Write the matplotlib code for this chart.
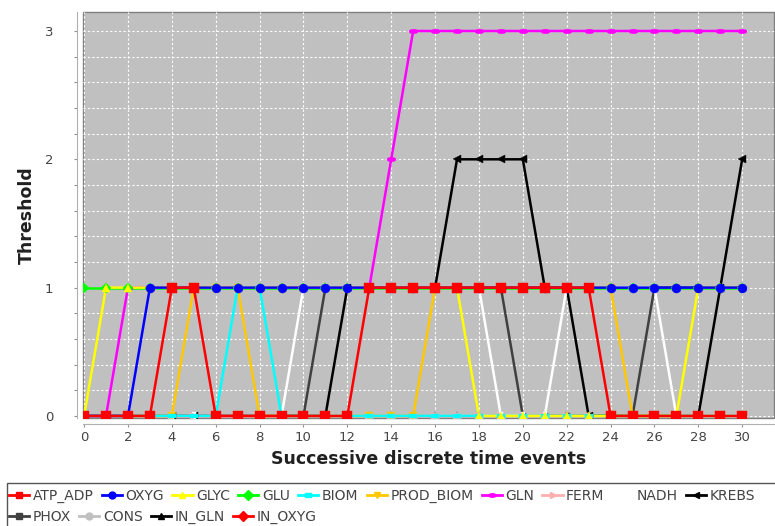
import numpy as np
import matplotlib
matplotlib.use("Agg")
import matplotlib.pyplot as plt
from matplotlib.lines import Line2D
from matplotlib.patches import Rectangle
from matplotlib.ticker import MultipleLocator, FuncFormatter

# ---------------- data ----------------
x = list(range(31))
series_names = ["ATP_ADP", "OXYG", "GLYC", "GLU", "BIOM", "PROD_BIOM", "GLN",
                "FERM", "NADH", "KREBS", "PHOX", "CONS", "IN_GLN", "IN_OXYG"]

ATP_ADP   = [0,0,0,0,1,1,0,0,0,0,0,0,0,1,1,1,1,1,1,1,1,1,1,1,0,0,0,0,0,0,0]
OXYG      = [0,0,0,1,1,1,1,1,1,1,1,1,1,1,1,1,1,1,1,1,1,1,1,1,1,1,1,1,1,1,1]
GLYC      = [0,1,1,1,1,1,1,1,1,1,1,1,1,1,1,1,1,1,0,0,0,0,0,0,0,0,0,0,1,1,1]
GLU       = [1,1,1,1,1,1,1,1,1,1,1,1,1,1,1,1,1,1,1,1,1,1,1,1,1,1,1,1,1,1,1]
BIOM      = [0,0,0,0,0,0,0,1,1,0,0,0,0,0,0,0,0,0,0,0,0,0,0,0,0,0,0,0,0,0,0]
PROD_BIOM = [0,0,0,0,0,1,1,1,0,0,0,0,0,0,0,0,1,1,1,1,1,1,1,1,1,0,0,0,0,0,0]
GLN       = [0,0,1,1,1,1,1,1,1,1,1,1,1,1,2,3,3,3,3,3,3,3,3,3,3,3,3,3,3,3,3]
FERM      = [0,0,0,0,0,0,0,0,0,0,0,0,0,0,0,0,0,0,0,0,0,0,0,0,0,0,0,0,0,0,0]
NADH      = [0,0,0,0,0,0,0,0,0,0,1,1,1,1,1,1,1,1,1,0,0,0,1,1,1,1,1,0,0,0,0]
KREBS     = [0,0,0,0,0,0,0,0,0,0,0,0,1,1,1,1,1,2,2,2,2,1,1,0,0,0,0,0,0,1,2]
PHOX      = [0,0,0,0,0,0,0,0,0,0,0,1,1,1,1,1,1,1,1,1,0,0,0,0,0,0,1,1,1,1,1]
CONS      = [0,0,0,0,0,0,0,0,0,0,0,0,0,0,0,0,0,0,0,0,0,0,0,0,0,0,0,0,0,0,0]
IN_GLN    = [0,0,0,0,0,0,0,0,0,0,0,0,0,0,0,0,0,0,0,0,0,0,0,0,0,0,0,0,0,0,0]
IN_OXYG   = [0,0,0,0,0,0,0,0,0,0,0,0,0,0,0,0,0,0,0,0,0,0,0,0,0,0,0,0,0,0,0]

values = [ATP_ADP, OXYG, GLYC, GLU, BIOM, PROD_BIOM, GLN, FERM, NADH,
          KREBS, PHOX, CONS, IN_GLN, IN_OXYG]
x_ticks = list(range(0, 31, 2))
y_labels = [0, 1, 2, 3]

# ---------------- styles ----------------
colors = ["#FF0000", "#0000FF", "#FFFF00", "#00FF00", "#00FFFF", "#FFC800",
          "#FF00FF", "#FFAFAF", "#FFFFFF", "#000000", "#404040", "#C0C0C0",
          "#000000", "#FF0000"]

hrect = [(-1, -0.5), (1, -0.5), (1, 0.5), (-1, 0.5), (-1, -0.5)]
vrect = [(-0.5, -1), (0.5, -1), (0.5, 1), (-0.5, 1), (-0.5, -1)]
t = np.linspace(0, 2 * np.pi, 40)
hell = list(zip(np.cos(t), 0.5 * np.sin(t)))
markers = ["s", "o", "^", "D", hrect, "v", hell, ">", vrect, "<",
           "s", "o", "^", "D"]
msizes = [7.0, 6.5, 6.3, 5, 6, 6.3, 6.5, 6.3, 6, 6.3, 4.5, 6, 5.5, 4.0]

W, H = 775, 526
fig = plt.figure(figsize=(W / 100, H / 100), dpi=100)
L, R, T, B = 83, 774, 12, 418
ax = fig.add_axes([L / W, 1 - B / H, (R - L) / W, (B - T) / H])
ax.set_facecolor("#C0C0C0")
ax.patch.set_edgecolor("#808080")
ax.patch.set_linewidth(1.0)

n = len(series_names)
# pass 1: lines (series 0 on top), pass 2: shapes above all lines
for i, vals in enumerate(values):
    ax.plot(x, vals, color=colors[i], lw=1.8, zorder=10 + (n - i) * 0.1,
            solid_capstyle="butt")
for i, vals in enumerate(values):
    ax.plot(x, vals, linestyle="none", marker=markers[i], ms=msizes[i],
            mec=colors[i], mfc=colors[i], mew=0.3, zorder=20 + (n - i) * 0.1)

ax.set_xlim(-0.05, 31.45)
ax.set_ylim(-0.016, 3.148)
ax.set_xticks(x_ticks)
ax.yaxis.set_major_locator(MultipleLocator(0.2))
ax.yaxis.set_major_formatter(FuncFormatter(
    lambda v, p: str(int(round(v))) if abs(v - round(v)) < 1e-6 and int(round(v)) in y_labels else ""))

ax.grid(True, color="white", linestyle=(0, (2, 2)), linewidth=0.8)
ax.set_axisbelow(True)

for s in ["top", "right"]:
    ax.spines[s].set_visible(False)
ax.spines["left"].set_position(("outward", 4))
ax.spines["bottom"].set_position(("outward", 4))
ax.spines["left"].set_color("#B0B0B0")
ax.spines["bottom"].set_color("#B0B0B0")
ax.spines["left"].set_bounds(-0.016, 3.148)
ax.tick_params(axis="y", length=2.5, color="#909090", pad=15, labelsize=9.5,
               labelcolor="#444444")
ax.tick_params(axis="x", length=2.5, color="#909090", pad=3, labelsize=9.5,
               labelcolor="#444444")

ax.set_xlabel("Successive discrete time events", fontsize=12.5,
              fontweight="bold", color="#202020", labelpad=4)
ax.set_ylabel("Threshold", fontsize=12.5, fontweight="bold",
              color="#202020", labelpad=6)

# ---------------- legend (flow layout, two rows) ----------------
handles = [Line2D([0], [0], color=colors[i], marker=markers[i],
                  ms=5, lw=2, mec=colors[i], mfc=colors[i])
           for i in range(n)]
common = dict(frameon=False, borderpad=0, borderaxespad=0, handlelength=1.45,
              handletextpad=0.25, columnspacing=0.6, fontsize=10,
              labelcolor="#444444", loc="center left")
fig.legend(handles[:10], series_names[:10], ncol=10,
           bbox_to_anchor=(9 / W, 1 - 496 / H), **common)
fig.legend(handles[10:], series_names[10:], ncol=4,
           bbox_to_anchor=(9 / W, 1 - 517 / H), **common)
fig.patches.append(Rectangle((7 / W, -0.02), 1.0, (534 - 480) / H,
                             transform=fig.transFigure, fill=False,
                             edgecolor="#555555", lw=1.0))

fig.savefig("out.png", dpi=100)
